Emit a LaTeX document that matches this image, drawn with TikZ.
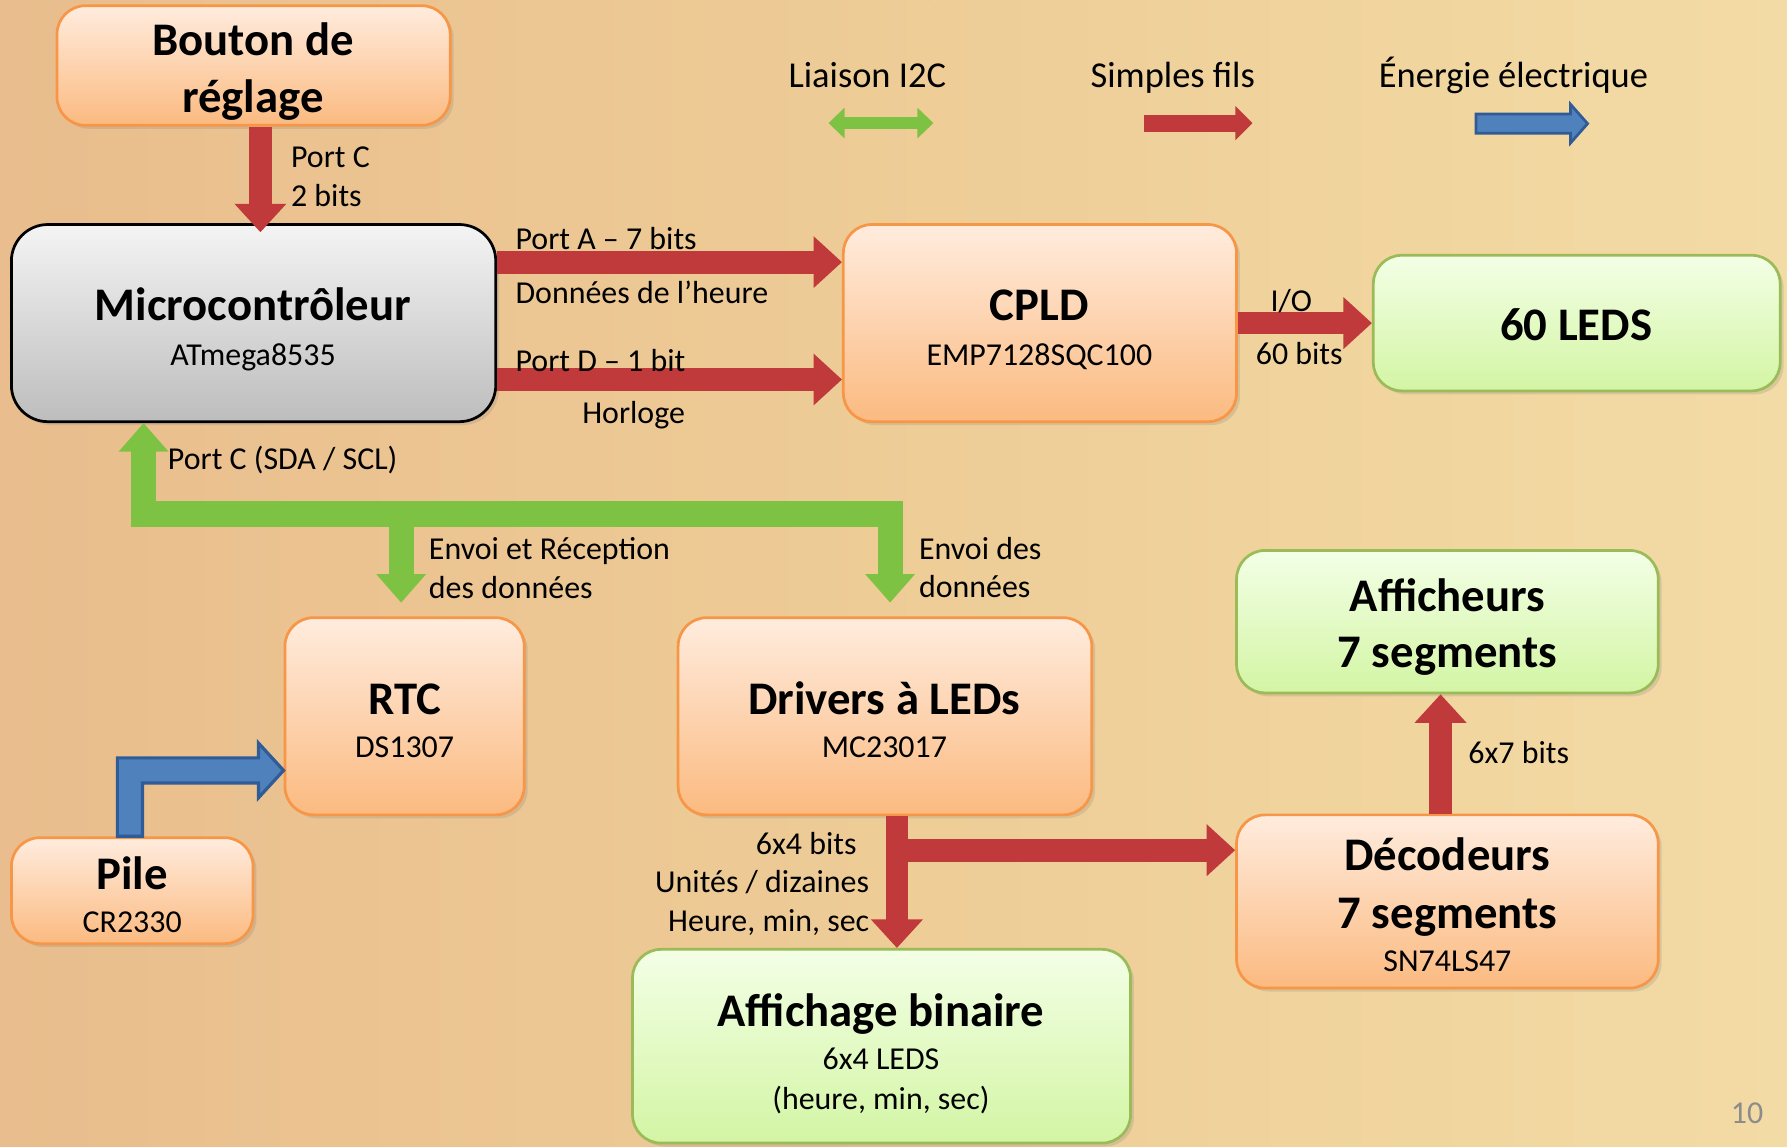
\documentclass[tikz,border=0pt]{standalone}
\usepackage{fontspec}
\setmainfont{Carlito}
\usetikzlibrary{arrows.meta,calc,shadows}
\definecolor{bgA}{HTML}{EECD97}
\definecolor{bgB}{HTML}{E9BD8D}
\definecolor{bgC}{HTML}{F3DBA5}
\definecolor{orTop}{HTML}{FFECDE}
\definecolor{orBot}{HTML}{FBBA80}
\definecolor{orLine}{HTML}{F79646}
\definecolor{grTop}{HTML}{F4F4F4}
\definecolor{grBot}{HTML}{BDBDBD}
\definecolor{gnTop}{HTML}{F3FFE6}
\definecolor{gnBot}{HTML}{D3F5A4}
\definecolor{gnLine}{HTML}{9BBB59}
\definecolor{redA}{HTML}{C0393B}
\definecolor{greenA}{HTML}{7DC242}
\definecolor{blueA}{HTML}{4F81BD}
\definecolor{blueB}{HTML}{2F5B96}
\definecolor{pgnum}{HTML}{8C8C8C}
\begin{document}
\begin{tikzpicture}[x=0.5pt,y=-0.5pt,
  boxbase/.style={rounded corners=12.5pt, line width=1.2pt, inner sep=0pt,
    drop shadow={opacity=0.22,shadow xshift=1.5pt,shadow yshift=-1.5pt}},
  obox/.style={boxbase, draw=orLine, top color=orTop, bottom color=orBot},
  gbox/.style={boxbase, draw=gnLine, top color=gnTop, bottom color=gnBot},
  mbox/.style={boxbase, rounded corners=16pt, draw=black, top color=grTop, bottom color=grBot},
  txt/.style={anchor=base, inner sep=0pt, yshift=-0.8pt, font=\fontsize{14}{17}\selectfont},
  ttl/.style={anchor=base, inner sep=0pt, yshift=-0.8pt, font=\fontsize{20.5}{25}\selectfont\bfseries},
  lbl/.style={inner sep=0pt, yshift=-0.6pt, font=\fontsize{14}{17}\selectfont},
  leg/.style={anchor=base, inner sep=0pt, font=\fontsize{16}{19}\selectfont},
  redarrow/.style={draw=redA, line width=10pt, -{Triangle[width=22pt,length=12.5pt]}},
  grnarrow/.style={draw=greenA, line width=11pt, line join=miter},
  bluearrow/.style={fill=blueA, draw=blueB, line width=1.4pt, line join=miter},
]
% background
\shade[left color=bgB, right color=bgA] (0,0) rectangle (820,1006);
\shade[left color=bgA, right color=bgC] (820,0) rectangle (1568,1006);
\useasboundingbox (0,0) rectangle (1568,1006);

% boxes
\node[obox, minimum width=172.5pt, minimum height=52.5pt] (btn)  at (222.5,57.5) {};
\node[mbox, minimum width=212.5pt, minimum height=86.5pt] (mcu)  at (222.5,283.5) {};
\node[obox, minimum width=172.5pt, minimum height=86.5pt] (cpld) at (912.5,283.5) {};
\node[gbox, minimum width=178.5pt, minimum height=59.5pt] (leds) at (1383.5,283.5) {};
\node[obox, minimum width=105pt,   minimum height=86.5pt] (rtc)  at (355,628.5) {};
\node[obox, minimum width=181.5pt, minimum height=86.5pt] (drv)  at (776.5,628.5) {};
\node[obox, minimum width=106pt,   minimum height=46.5pt] (pile) at (116,781.5) {};
\node[gbox, minimum width=185pt,   minimum height=62.5pt] (aff)  at (1270,545.5) {};
\node[obox, minimum width=185pt,   minimum height=76pt]   (dec)  at (1270,791) {};
\node[gbox, minimum width=218.5pt, minimum height=85pt]   (bin)  at (773.5,918) {};

% box texts
\node[ttl] (t1a) at (222,47) {Bouton de};
\node[ttl] (t1b) at (222,97) {réglage};
\node[ttl] (t2a) at (222,280) {Microcontrôleur};
\node[txt] (t2b) at (222,319) {ATmega8535};
\node[ttl] (t3a) at (912,280) {CPLD};
\node[txt] (t3b) at (912,319) {EMP7128SQC100};
\node[ttl] (t4a) at (1383,297) {60 LEDS};
\node[ttl] (t5a) at (355,625) {RTC};
\node[txt] (t5b) at (355,663) {DS1307};
\node[ttl] (t6a) at (776,625) {Drivers à LEDs};
\node[txt] (t6b) at (776,663) {MC23017};
\node[ttl] (t7a) at (116,779) {Pile};
\node[txt] (t7b) at (116,817) {CR2330};
\node[ttl] (t8a) at (1270,535) {Afficheurs};
\node[ttl] (t8b) at (1270,584) {7 segments};
\node[ttl] (t9a) at (1270,762) {Décodeurs};
\node[ttl] (t9b) at (1270,813) {7 segments};
\node[txt] (t9c) at (1270,851) {SN74LS47};
\node[ttl] (t10a) at (773,899) {Affichage binaire};
\node[txt] (t10b) at (773,937) {6x4 LEDS};
\node[txt] (t10c) at (773,972) {(heure, min, sec)};

% helper coordinates
\coordinate (bus) at (0,451);
\coordinate (mcuIn) at ([xshift=-48.25pt]mcu.south);
\coordinate (drvIn) at ([xshift=2.25pt]drv.north);
\coordinate (rtcIn) at ([xshift=-1.5pt]rtc.north);
\coordinate (drvOut) at ([xshift=5.25pt]drv.south);
\coordinate (decIn) at ([yshift=22.5pt]dec.west);
\coordinate (pileOut) at ([xshift=-1pt]pile.north);
\coordinate (rtcPw) at ([yshift=-23.75pt]rtc.west);

% red connectors
\draw[redarrow, shorten >=-4pt] ([xshift=3pt]btn.south) -- ([xshift=3pt]mcu.north);
\draw[redarrow] ([yshift=26.75pt]mcu.east) -- ([yshift=26.75pt]cpld.west);
\draw[redarrow] ([yshift=-24.75pt]mcu.east) -- ([yshift=-24.75pt]cpld.west);
\draw[redarrow] (cpld.east) -- (leds.west);
\draw[redarrow] (drvOut) -- (drvOut |- bin.north);
\draw[redarrow] ($(drvOut |- decIn)+(-10,0)$) -- (decIn);
\draw[redarrow] ([xshift=-3pt]dec.north) -- ([xshift=-3pt]aff.south);

% green I2C bus
\draw[grnarrow, {Triangle[width=21pt,length=12.5pt]}-{Triangle[width=21pt,length=12.5pt]}, shorten >=6pt]
  (mcuIn) -- (mcuIn |- bus) -- (drvIn |- bus) -- (drvIn);
\draw[grnarrow, -{Triangle[width=21pt,length=12.5pt]}, shorten >=6pt] (rtcIn |- bus) -- (rtcIn);

% blue power
\draw[bluearrow] ($(pileOut)+(-11,0)$) -- ($(pileOut |- rtcPw)+(-11,-11)$) -- ($(rtcPw)+(-22,-11)$)
  -- ($(rtcPw)+(-22,-24)$) -- (rtcPw) -- ($(rtcPw)+(-22,24)$) -- ($(rtcPw)+(-22,11)$)
  -- ($(pileOut |- rtcPw)+(11,11)$) -- ($(pileOut)+(11,0)$) -- cycle;

% labels
\node[lbl, anchor=base west] (lpc) at (255,146) {Port C};
\node[lbl, anchor=base west] (l2b) at (255,180) {2 bits};
\node[lbl, anchor=base west] (lpa) at (452,218) {Port A – 7 bits};
\node[lbl, anchor=base west] (ldh) at (452,265) {Données de l’heure};
\node[lbl, anchor=base west] (lpd) at (452,325) {Port D – 1 bit};
\node[lbl, anchor=base] (lhor) at (556,370) {Horloge};
\node[lbl, anchor=base west] (lsda) at (147,411) {Port C (SDA / SCL)};
\node[lbl, anchor=base west] (ler1) at (376,490) {Envoi et Réception};
\node[lbl, anchor=base west] (ler2) at (376,524) {des données};
\node[lbl, anchor=base west] (led1) at (806,490) {Envoi des};
\node[lbl, anchor=base west] (led2) at (806,523) {données};
\node[lbl, anchor=base] (lio) at (1133,272) {I/O};
\node[lbl, anchor=base] (l60) at (1140,319) {60 bits};
\node[lbl, anchor=base west] (l67) at (1288,669) {6x7 bits};
\node[lbl, anchor=base east] (l64) at (752,749) {6x4 bits};
\node[lbl, anchor=base east] (lud) at (763,782) {Unités / dizaines};
\node[lbl, anchor=base east] (lhms) at (763,816) {Heure, min, sec};

% legend
\node[leg] (lg1) at (761,77) {Liaison I2C};
\node[leg] (lg2) at (1029,77) {Simples fils};
\node[leg] (lg3) at (1328,77) {Énergie électrique};
\coordinate (g1a) at (727,108); \coordinate (g1b) at (819,108);
\draw[draw=greenA, line width=5.5pt, {Triangle[width=13pt,length=7pt]}-{Triangle[width=13pt,length=7pt]}] (g1a) -- (g1b);
\coordinate (r1a) at (1004,108); \coordinate (r1b) at (1099,108);
\draw[draw=redA, line width=7.5pt, -{Triangle[width=14.5pt,length=7.5pt]}] (r1a) -- (r1b);
\coordinate (b1) at (1393,108.5);
\draw[bluearrow, line width=1.2pt] ($(b1)+(-98,-8.5)$) -- ($(b1)+(-15,-8.5)$) -- ($(b1)+(-15,-17)$) -- (b1)
  -- ($(b1)+(-15,17)$) -- ($(b1)+(-15,8.5)$) -- ($(b1)+(-98,8.5)$) -- cycle;

% page number
\node[txt, text=pgnum] (pg) at (1533,984) {10};
\end{tikzpicture}
\end{document}
